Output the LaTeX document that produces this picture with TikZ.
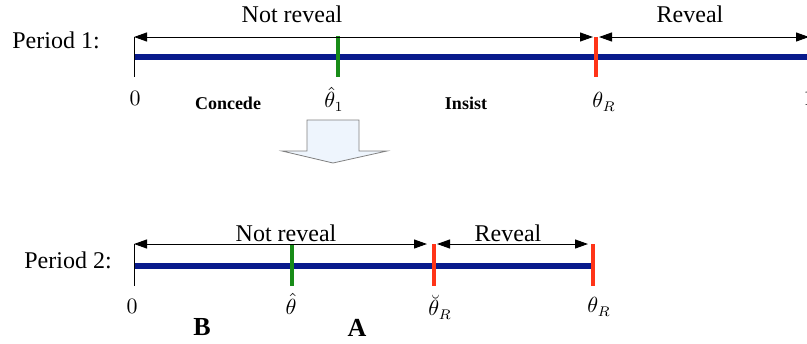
\documentclass[tikz,border=0pt]{standalone}
\usepackage{fontspec}
\setmainfont{Liberation Serif}
\usetikzlibrary{arrows.meta}
\definecolor{axisblue}{RGB}{8,26,140}
\definecolor{cutgreen}{RGB}{24,140,24}
\definecolor{cutred}{RGB}{255,52,24}
\definecolor{shiftfill}{RGB}{238,245,253}

\begin{document}
\begin{tikzpicture}[x=0.5pt,y=-0.5pt]
        \tikzstyle{every node}=[font=\fontsize{12}{14}\selectfont, inner sep=0pt]
        \tikzstyle{axisline}=[draw=axisblue, line width=2.6pt]
        \tikzstyle{spanarrow}=[{Triangle[length=6.5pt,width=4.5pt]}-{Triangle[length=6.5pt,width=4.5pt]}, line width=0.5pt]
        \tikzstyle{cutline}=[line width=1.6pt]
        \tikzstyle{zeroline}=[line width=0.5pt]
        \tikzstyle{regionlab}=[font=\fontsize{9}{11}\selectfont\bfseries]
        \tikzstyle{choicelab}=[font=\fontsize{13}{15}\selectfont\bfseries]
        \tikzstyle{valuelab}=[font=\fontsize{10.5}{12}\selectfont]

        \useasboundingbox (0,0) rectangle (807,343);
        \clip (0,0) rectangle (807,343);

        % period 1
        \node[anchor=base] (period1) at (56,48) {Period 1:};
        \coordinate (zeroA) at (134,57);
        \coordinate (endA) at (830,57);
        \coordinate (zeroAtop) at (134,37);
        \coordinate (zeroAbot) at (134,77);
        \coordinate (hatAtop) at (338,36);
        \coordinate (hatAbot) at (338,77);
        \coordinate (revAtop) at (596,37);
        \coordinate (revAbot) at (596,77);
        \coordinate (endAtop) at (809,37);

        \draw[axisline] (zeroA) -- (endA);
        \draw[zeroline] (zeroAtop) -- (zeroAbot);
        \draw[cutline, draw=cutgreen] (hatAtop) -- (hatAbot);
        \draw[cutline, draw=cutred] (revAtop) -- (revAbot);
        \draw[spanarrow] (zeroAtop) -- ([xshift=-1.5pt]revAtop);
        \draw[spanarrow] ([xshift=1.5pt]revAtop) -- (endAtop);

        \node (notrevA) at (292,14) {Not reveal};
        \node (revA) at (690,14) {Reveal};
        \node[valuelab] (zeroAlab) at (135,98) {$0$};
        \node[regionlab] (concede) at (228,103) {Concede};
        \node[valuelab] (hatAlab) at (334,99) {$\hat{\theta}_1$};
        \node[regionlab] (insist) at (466,103) {Insist};
        \node[valuelab] (revAlab) at (604,102) {$\theta_R$};
        \node[valuelab] (oneA) at (809,98) {$1$};

        % shift to period 2
        \draw[draw=gray, fill=shiftfill, line width=0.4pt]
            (307,120) -- (359,120) -- (359,151) -- (387,151) -- (333,163)
            -- (282,151) -- (307,151) -- cycle;

        % period 2
        \node[anchor=base] (period2) at (68,268) {Period 2:};
        \coordinate (zeroB) at (134,266);
        \coordinate (endB) at (592,266);
        \coordinate (zeroBtop) at (134,244);
        \coordinate (zeroBbot) at (134,286);
        \coordinate (hatBtop) at (292,244);
        \coordinate (hatBbot) at (292,286);
        \coordinate (lowBtop) at (434,244);
        \coordinate (lowBbot) at (434,286);
        \coordinate (revBtop) at (593,244);
        \coordinate (revBbot) at (593,286);

        \draw[axisline] (zeroB) -- (endB);
        \draw[zeroline] (zeroBtop) -- (zeroBbot);
        \draw[cutline, draw=cutgreen] (hatBtop) -- (hatBbot);
        \draw[cutline, draw=cutred] (lowBtop) -- (lowBbot);
        \draw[cutline, draw=cutred] (revBtop) -- (revBbot);
        \draw[spanarrow] (zeroBtop) -- ([xshift=-3.5pt]lowBtop);
        \draw[spanarrow] ([xshift=1.5pt]lowBtop) -- ([xshift=-2.5pt]revBtop);

        \node (notrevB) at (286,233) {Not reveal};
        \node (revB) at (508,233) {Reveal};
        \node[valuelab] (zeroBlab) at (132,306) {$0$};
        \node[choicelab] (chooseB) at (202,327) {B};
        \node[valuelab] (hatBlab) at (291,304) {$\hat{\theta}$};
        \node[choicelab] (chooseA) at (357,328) {A};
        \node[valuelab] (lowBlab) at (440,307) {$\breve{\theta}_R$};
        \node[valuelab] (revBlab) at (599,307) {$\theta_R$};
\end{tikzpicture}
\end{document}
